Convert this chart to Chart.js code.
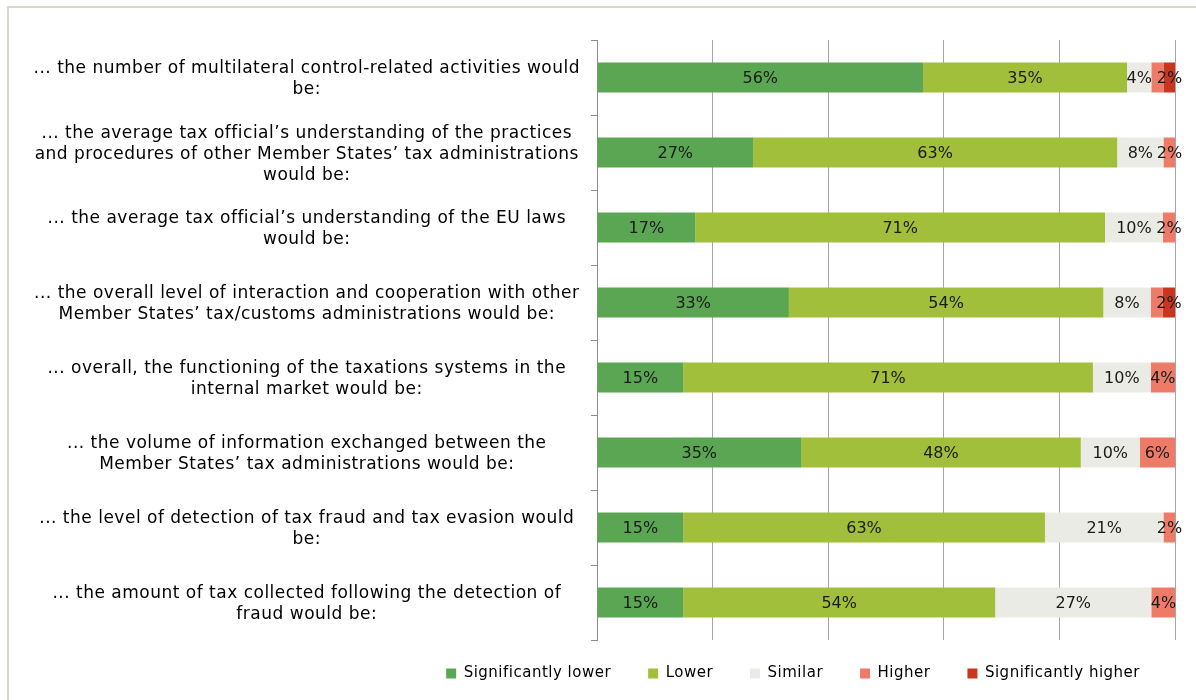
<!DOCTYPE html>
<html>
<head>
<meta charset="utf-8">
<script src="https://cdn.jsdelivr.net/npm/chart.js@4/dist/chart.umd.min.js"></script>
<style>
  body { margin: 0; background: #fff; }
  #wrap { position: relative; width: 1196px; height: 700px; }
  #frame { position: absolute; left: 7px; top: 6px; right: -10px; bottom: -10px;
           border-top: 2px solid #d7d7cb; border-left: 2px solid #d7d7cb; pointer-events: none; }
</style>
</head>
<body>
<div id="wrap">
  <canvas id="chart" width="1196" height="700"></canvas>
  <div id="frame"></div>
</div>
<script>
// perguntas (categorias)
const categories = [
    ['... the number of multilateral control-related activities would', 'be:'],
    ['... the average tax official’s understanding of the practices', 'and procedures of other Member States’ tax administrations', 'would be:'],
    ['... the average tax official’s understanding of the EU laws', 'would be:'],
    ['... the overall level of interaction and cooperation with other', 'Member States’ tax/customs administrations would be:'],
    ['... overall, the functioning of the taxations systems in the', 'internal market would be:'],
    ['... the volume of information exchanged between the', 'Member States’ tax administrations would be:'],
    ['... the level of detection of tax fraud and tax evasion would', 'be:'],
    ['... the amount of tax collected following the detection of', 'fraud would be:']
];

const seriesNames = ['Significantly lower', 'Lower', 'Similar', 'Higher', 'Significantly higher'];

// valores em %
const sigLower = [56.4, 27.0, 17.0, 33.2, 14.9, 35.3, 14.9, 14.9];
const lower = [35.3, 63.0, 70.9, 54.4, 70.9, 48.4, 62.6, 54.0];
const similar = [4.2, 8.0, 10.0, 8.2, 10.0, 10.2, 20.5, 27.0];
const higher = [2.1, 2.1, 2.1, 2.1, 4.2, 6.1, 2.1, 4.2];
const sigHigher = [2.1, 0, 0, 2.1, 0, 0, 0, 0];

const xTicks = [0, 20, 40, 60, 80, 100];

const colors = ['#5ba653', '#a1bf3a', '#ebebe6', '#ee7b68', '#c8361f'];
const allValues = [sigLower, lower, similar, higher, sigHigher];

// espaçamento de letras parecido com Verdana
const letterSpacing = {
    id: 'letterSpacing',
    beforeLayout(chart) { chart.ctx.letterSpacing = '0.5px'; },
    beforeDraw(chart) { chart.ctx.letterSpacing = '0.5px'; }
};

// rótulos de valor dentro das barras
const barLabels = {
    id: 'barLabels',
    afterDatasetsDraw(chart) {
        const ctx = chart.ctx;
        ctx.save();
        ctx.letterSpacing = '0px';
        ctx.font = '16px "DejaVu Sans", Verdana, sans-serif';
        ctx.fillStyle = '#1a1a1a';
        ctx.textAlign = 'center';
        ctx.textBaseline = 'middle';
        const used = categories.map(() => []);
        for (let d = chart.data.datasets.length - 1; d >= 0; d--) {
            const meta = chart.getDatasetMeta(d);
            meta.data.forEach((bar, i) => {
                const v = chart.data.datasets[d].data[i];
                if (!v) return;
                const txt = Math.round(v) + '%';
                const cx = (bar.x + bar.base) / 2;
                const w = ctx.measureText(txt).width;
                const l = cx - w / 2, r = cx + w / 2;
                if (used[i].some(s => l < s[1] && r > s[0])) return;
                used[i].push([l, r]);
                ctx.fillText(txt, cx, bar.y + 1);
            });
        }
        ctx.restore();
    }
};

// legenda: espaçamento horizontal grande, mas encostada ao gráfico
const legendShift = {
    id: 'legendShift',
    afterLayout(chart) {
        const lg = chart.legend;
        lg.top -= 11; lg.bottom -= 11;
        lg.left += 2; lg.right += 2;
    }
};

const datasets = seriesNames.map((name, k) => ({
    label: name,
    data: allValues[k],
    backgroundColor: colors[k],
    borderWidth: 0,
    barPercentage: 0.4,
    categoryPercentage: 1.0
}));

new Chart(document.getElementById('chart').getContext('2d'), {
    type: 'bar',
    data: { labels: categories, datasets: datasets },
    plugins: [letterSpacing, barLabels, legendShift],
    options: {
        indexAxis: 'y',
        responsive: false,
        animation: false,
        layout: { padding: { left: 20, right: 21, top: 40, bottom: -2 } },
        scales: {
            x: {
                stacked: true,
                min: 0,
                max: 100,
                afterBuildTicks: (scale) => { scale.ticks = xTicks.map(v => ({ value: v })); },
                ticks: { display: false },
                grid: { color: '#a6a6a6', lineWidth: 1, drawTicks: false },
                border: { display: false }
            },
            y: {
                stacked: true,
                afterFit: (scale) => { scale.width = 577; },
                ticks: {
                    crossAlign: 'center',
                    padding: 11,
                    labelOffset: 2,
                    color: '#000',
                    font: { family: '"DejaVu Sans", Verdana, sans-serif', size: 17, lineHeight: 1.24 }
                },
                grid: { drawOnChartArea: false, offset: true, tickLength: 6, color: '#8c8c8c' },
                border: { color: '#8c8c8c' }
            }
        },
        plugins: {
            legend: {
                position: 'bottom',
                align: 'end',
                labels: {
                    boxWidth: 10,
                    boxHeight: 10,
                    padding: 37,
                    color: '#000',
                    font: { family: '"DejaVu Sans", Verdana, sans-serif', size: 15 }
                }
            },
            tooltip: { enabled: false }
        }
    }
});
</script>
</body>
</html>
